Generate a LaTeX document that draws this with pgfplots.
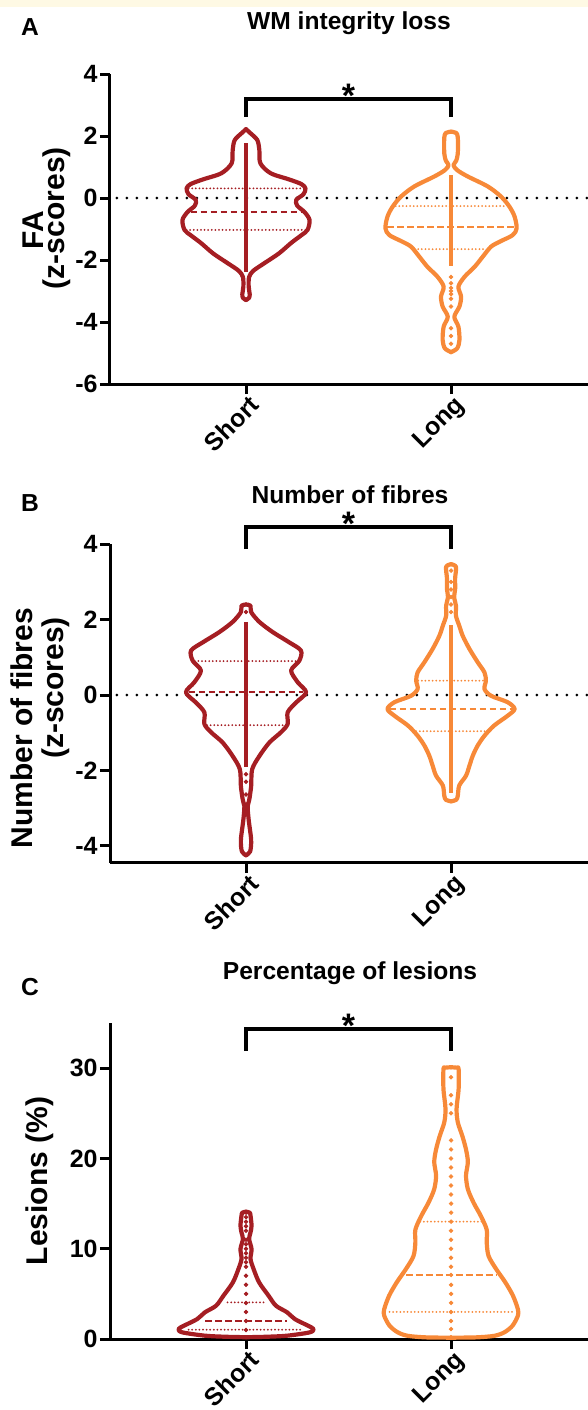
\documentclass[border=0pt]{standalone}
\usepackage{fontspec}
\setmainfont{Liberation Sans}
\usepackage{pgfplots}
\usepackage{pgfplotstable}
\pgfplotsset{compat=1.18}

\definecolor{shortc}{RGB}{165,30,35}
\definecolor{longc}{RGB}{247,137,56}
\definecolor{band}{RGB}{254,249,228}

% violin outlines: y and half width (category spacing = 1)
\pgfplotstableread{
y w
2.22 0
2.10 0.02
1.87 0.055
1.55 0.065
1.12 0.07
0.80 0.12
0.60 0.21
0.45 0.27
0.31 0.29
0.12 0.28
-0.06 0.245
-0.25 0.25
-0.45 0.285
-0.71 0.31
-1.03 0.30
-1.20 0.27
-1.45 0.22
-1.79 0.16
-2.10 0.09
-2.35 0.035
-2.55 0.015
-2.86 0.013
-3.10 0.018
-3.22 0.015
-3.29 0
}\faShort
\pgfplotstableread{
y w
2.14 0
2.10 0.025
1.95 0.033
1.44 0.033
1.20 0.025
1.06 0.012
0.90 0.03
0.70 0.08
0.37 0.18
0.04 0.245
-0.28 0.285
-0.60 0.31
-0.98 0.32
-1.20 0.30
-1.40 0.24
-1.57 0.195
-1.89 0.155
-2.22 0.115
-2.54 0.066
-2.86 0.036
-3.18 0.049
-3.50 0.041
-3.83 0.016
-4.15 0.036
-4.58 0.041
-4.85 0.03
-4.97 0
}\faLong
\pgfplotstableread{
y w
2.40 0
2.37 0.022
2.20 0.025
1.94 0.065
1.67 0.13
1.40 0.21
1.18 0.268
0.91 0.26
0.65 0.22
0.34 0.252
0.07 0.293
-0.20 0.244
-0.46 0.203
-0.77 0.203
-0.99 0.17
-1.26 0.114
-1.62 0.065
-1.97 0.03
-2.42 0.025
-2.77 0.016
-2.95 0.008
-3.31 0.013
-3.84 0.025
-4.15 0.02
-4.25 0
}\fbShort
\pgfplotstableread{
y w
3.47 0
3.40 0.024
3.10 0.02
2.81 0.02
2.60 0.015
2.37 0.024
2.10 0.024
1.84 0.04
1.57 0.057
1.22 0.09
0.87 0.13
0.60 0.163
0.38 0.17
0.16 0.163
-0.02 0.195
-0.19 0.276
-0.37 0.31
-0.55 0.276
-0.81 0.21
-1.08 0.163
-1.34 0.13
-1.61 0.106
-1.87 0.09
-2.14 0.073
-2.40 0.04
-2.67 0.033
-2.78 0.025
-2.82 0
}\fbLong
\pgfplotstableread{
y w
14.1 0
14.0 0.018
13.66 0.022
12.55 0.027
11.81 0.022
11.07 0.015
9.97 0.027
8.86 0.022
7.75 0.037
6.27 0.064
4.80 0.11
3.69 0.146
2.95 0.201
2.21 0.238
1.48 0.302
1.11 0.329
0.74 0.311
0.37 0.201
0.25 0.1
0.2 0
}\lsShort
\pgfplotstableread{
y w
30.1 0
30.05 0.03
29.9 0.037
27.7 0.037
25.5 0.027
24.0 0.033
22.5 0.055
21.0 0.073
19.6 0.082
18.1 0.073
16.6 0.082
15.1 0.11
13.6 0.146
12.1 0.174
10.7 0.174
9.2 0.183
7.75 0.22
6.27 0.265
4.8 0.302
3.3 0.326
2.58 0.326
1.48 0.30
0.74 0.26
0.35 0.21
0.18 0.12
0.15 0
}\lsLong

\pgfplotsset{
  prism/.style={
    scale only axis, width=239pt,
    xmin=0.3366, xmax=2.668,
    axis x line=bottom, axis y line=left,
    axis line style={line width=1.5pt, -},
    tick align=outside, major tick length=5pt,
    every tick/.style={black, line width=1.5pt},
    xtick={1,2}, xticklabels={Short,Long},
    tick label style={font=\bfseries\fontsize{12.5}{14}\selectfont},
    yticklabel style={inner sep=1pt},
    xticklabel style={yshift=3pt, xshift=1pt, rotate=45, anchor=north east, inner sep=2pt},
    /pgf/number format/assume math mode=true,
    clip=false,
  },
  vio/.style={smooth, line width=2.1pt, line cap=round, line join=round},
  qdot/.style={line width=1pt, line cap=round, dash pattern=on 0pt off 1.8pt},
  qdash/.style={line width=1pt, dash pattern=on 3.3pt off 1.7pt},
  zero/.style={black, line width=1.5pt, line cap=round, dash pattern=on 0pt off 5pt},
  col/.style={line width=1.6pt},
  pts/.style={only marks, mark=*, mark size=0.9pt},
}
\tikzset{
  brk/.style={black, line width=2pt},
  ylab/.style={rotate=90, anchor=center, font=\bfseries\fontsize{15}{17}\selectfont},
  star/.style={anchor=base, yshift=-4.3pt, font=\bfseries\fontsize{17}{18}\selectfont},
  ttl/.style={font=\bfseries\fontsize{12.3}{14}\selectfont},
}

\begin{document}
\begin{tikzpicture}
\path[use as bounding box] (0,0) rectangle (294pt,-705pt);
\fill[band] (0,0) rectangle (294pt,-3.5pt);

% ---------- A ----------
\node[ttl] at (174.5pt,-11.5pt) {WM integrity loss};
\node[ttl] at (15pt,-13.5pt) {A};
\begin{axis}[prism, at={(55pt,-192pt)}, anchor=south west, height=155pt,
  ymin=-6, ymax=4, ytick={-6,-4,-2,0,2,4}]
\node[ylab] at (axis description cs:-0.161,0.497) {FA};
\node[ylab] at (axis description cs:-0.111,0.535) {(z-scores)};
\addplot[zero] coordinates {(0.37,0) (2.668,0)};
\addplot[vio, shortc] table[x expr=1+\thisrow{w}, y=y] {\faShort};
\addplot[vio, shortc] table[x expr=1-\thisrow{w}, y=y] {\faShort};
\addplot[qdot, shortc] coordinates {(0.72,0.31) (1.28,0.31)};
\addplot[qdash, shortc] coordinates {(0.73,-0.44) (1.27,-0.44)};
\addplot[qdot, shortc] coordinates {(0.71,-1.03) (1.29,-1.03)};
\addplot[col, shortc] coordinates {(1,1.76) (1,-2.4)};
\addplot[vio, longc] table[x expr=2+\thisrow{w}, y=y] {\faLong};
\addplot[vio, longc] table[x expr=2-\thisrow{w}, y=y] {\faLong};
\addplot[qdot, longc] coordinates {(1.73,-0.26) (2.27,-0.26)};
\addplot[qdash, longc] coordinates {(1.69,-0.95) (2.31,-0.95)};
\addplot[qdot, longc] coordinates {(1.84,-1.65) (2.16,-1.65)};
\addplot[col, longc] coordinates {(2,0.74) (2,-2.2)};
\addplot[pts, longc] coordinates {(2,-2.55) (2,-2.75) (2,-2.9) (2,-3.0) (2,-3.1) (2,-3.25) (2,-3.5) (2,-4.2) (2,-4.45) (2,-4.7)};
\draw[brk] (axis cs:1,2.62) -- (axis cs:1,3.2) -- (axis cs:2,3.2) -- (axis cs:2,2.62);
\node[star] at (axis cs:1.5,3.2) {*};
\end{axis}

% ---------- B ----------
\node[ttl] at (175pt,-247.5pt) {Number of fibres};
\node[ttl] at (15pt,-251.5pt) {B};
\begin{axis}[prism, at={(55pt,-431.4pt)}, anchor=south west, height=159.3pt,
  ymin=-4.45, ymax=4, ytick={-4,-2,0,2,4}]
\node[ylab] at (axis description cs:-0.184,0.423) {Number of fibres};
\node[ylab] at (axis description cs:-0.113,0.549) {(z-scores)};
\addplot[zero] coordinates {(0.37,0) (2.668,0)};
\addplot[vio, shortc] table[x expr=1+\thisrow{w}, y=y] {\fbShort};
\addplot[vio, shortc] table[x expr=1-\thisrow{w}, y=y] {\fbShort};
\addplot[qdot, shortc] coordinates {(0.75,0.9) (1.25,0.9)};
\addplot[qdash, shortc] coordinates {(0.72,0.07) (1.28,0.07)};
\addplot[qdot, shortc] coordinates {(0.81,-0.8) (1.19,-0.8)};
\addplot[col, shortc] coordinates {(1,1.94) (1,-1.9)};
\addplot[pts, shortc] coordinates {(1,2.2) (1,-2.1) (1,-2.3) (1,-2.64) (1,-2.9)};
\addplot[vio, longc] table[x expr=2+\thisrow{w}, y=y] {\fbLong};
\addplot[vio, longc] table[x expr=2-\thisrow{w}, y=y] {\fbLong};
\addplot[qdot, longc] coordinates {(1.84,0.38) (2.16,0.38)};
\addplot[qdash, longc] coordinates {(1.70,-0.38) (2.30,-0.38)};
\addplot[qdot, longc] coordinates {(1.83,-0.96) (2.17,-0.96)};
\addplot[col, longc] coordinates {(2,1.85) (2,-2.6)};
\addplot[pts, longc] coordinates {(2,3.3) (2,3.0) (2,2.8) (2,2.6) (2,2.4) (2,2.2)};
\draw[brk] (axis cs:1,3.87) -- (axis cs:1,4.45) -- (axis cs:2,4.45) -- (axis cs:2,3.87);
\node[star] at (axis cs:1.5,4.45) {*};
\end{axis}

% ---------- C ----------
\node[ttl] at (175pt,-486.5pt) {Percentage of lesions};
\node[ttl] at (15pt,-493.5pt) {C};
\begin{axis}[prism, at={(55pt,-669.5pt)}, anchor=south west, height=158pt,
  ymin=0, ymax=35, ytick={0,10,20,30}]
\node[ylab] at (axis description cs:-0.146,0.5) {Lesions (\%)};
\addplot[vio, shortc] table[x expr=1+\thisrow{w}, y=y] {\lsShort};
\addplot[vio, shortc] table[x expr=1-\thisrow{w}, y=y] {\lsShort};
\addplot[qdot, shortc] coordinates {(0.91,4.06) (1.09,4.06)};
\addplot[qdash, shortc] coordinates {(0.8,2.03) (1.2,2.03)};
\addplot[qdot, shortc] coordinates {(0.72,1.03) (1.28,1.03)};
\addplot[pts, shortc] coordinates {(1,1) (1,2) (1,3) (1,4) (1,5) (1,6) (1,7) (1,8) (1,8.5) (1,9) (1,9.5) (1,10) (1,10.5) (1,11) (1,12) (1,12.5) (1,13) (1,13.5) (1,14)};
\addplot[vio, longc] table[x expr=2+\thisrow{w}, y=y] {\lsLong};
\addplot[vio, longc] table[x expr=2-\thisrow{w}, y=y] {\lsLong};
\addplot[qdot, longc] coordinates {(1.85,13) (2.15,13)};
\addplot[qdash, longc] coordinates {(1.78,7.1) (2.22,7.1)};
\addplot[qdot, longc] coordinates {(1.7,3.0) (2.3,3.0)};
\addplot[pts, longc] coordinates {(2,0.2) (2,1.1) (2,2) (2,3) (2,4) (2,5) (2,6) (2,7.1) (2,8) (2,9) (2,10) (2,11) (2,12) (2,13) (2,14) (2,15) (2,16) (2,17) (2,18) (2,19) (2,20) (2,21) (2,22) (2,25) (2,26) (2,27) (2,29)};
\draw[brk] (axis cs:1,31.9) -- (axis cs:1,34.3) -- (axis cs:2,34.3) -- (axis cs:2,31.9);
\node[star] at (axis cs:1.5,34.3) {*};
\end{axis}
\end{tikzpicture}
\end{document}
